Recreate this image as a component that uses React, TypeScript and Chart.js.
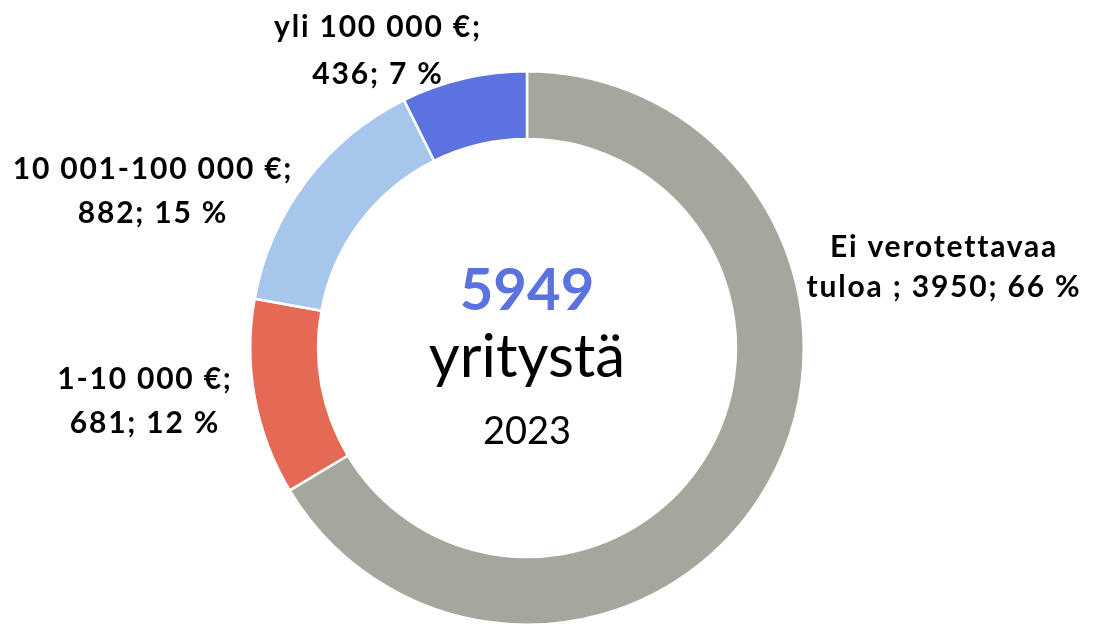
import React, { useEffect, useRef } from "react";
import { Chart, registerables } from "chart.js";

Chart.register(...registerables);

const categories = ["Ei verotettavaa tuloa ", "1-10 000 €", "10 001-100 000 €", "yli 100 000 €"];
const counts = [3950, 681, 882, 436];
const percents = [66, 12, 15, 7];
const sliceColors = ["#A6A79C", "#E46A55", "#A7C6EC", "#5B72DF"];
const labelLines = [
  ["Ei verotettavaa", "tuloa ; 3950; 66 %"],
  ["1-10 000 €;", "681; 12 %"],
  ["10 001-100 000 €;", "882; 15 %"],
  ["yli 100 000 €;", "436; 7 %"],
];
// label anchor offsets from the doughnut centre (style only)
const labelOffsets = [
  [416, -101, 40],
  [-383, 31, 44],
  [-375, -179, 44],
  [-150, -321, 47],
];
const totalLabel = "5949";
const centerWord = "yritystä";
const yearLabel = "2023";

const FONT = "Lato, 'Open Sans', sans-serif";

const labelPlugin = {
  id: "labelPlugin",
  afterDraw(chart: any) {
    const meta = chart.getDatasetMeta(0);
    const arc = meta.data[0];
    if (!arc) return;
    const cx = arc.x;
    const cy = arc.y;
    const ctx = chart.ctx;
    ctx.save();
    ctx.textAlign = "center";
    ctx.textBaseline = "middle";
    ctx.fillStyle = "#000";
    ctx.font = `bold 30px ${FONT}`;
    (ctx as any).letterSpacing = "1.8px";
    labelLines.forEach((lines, i) => {
      const [dx, dy, lh] = labelOffsets[i];
      lines.forEach((t, j) => {
        ctx.fillText(t, cx + dx + 1, cy + dy + j * lh);
      });
    });
    (ctx as any).letterSpacing = "0px";
    // centre texts
    ctx.fillStyle = sliceColors[3];
    ctx.font = `bold 58px ${FONT}`;
    ctx.fillText(totalLabel, cx, cy - 57);
    ctx.fillStyle = "#000";
    ctx.font = `60px ${FONT}`;
    ctx.fillText(centerWord, cx, cy + 10);
    ctx.font = `38px ${FONT}`;
    ctx.fillText(yearLabel, cx, cy + 84);
    ctx.restore();
  },
};

export default function App() {
  const ref = useRef<HTMLCanvasElement | null>(null);
  useEffect(() => {
    if (!ref.current) return;
    const chart = new Chart(ref.current, {
      type: "doughnut",
      data: {
        labels: categories,
        datasets: [
          {
            data: counts,
            backgroundColor: sliceColors,
            borderColor: "#ffffff",
            borderWidth: 2.5,
          },
        ],
      },
      options: {
        responsive: false,
        animation: false,
        devicePixelRatio: 1,
        cutout: "75.5%",
        layout: { padding: { left: 249, right: 288, top: 70, bottom: 0 } },
        plugins: {
          legend: { display: false },
          tooltip: { enabled: false },
        },
      },
      plugins: [labelPlugin],
    });
    return () => chart.destroy();
  }, []);
  return (
    <div style={{ position: "fixed", left: 0, top: 0, width: 1093, height: 624, overflow: "hidden", background: "#fff" }}>
      <canvas ref={ref} width={1093} height={626} style={{ display: "block" }} />
    </div>
  );
}
